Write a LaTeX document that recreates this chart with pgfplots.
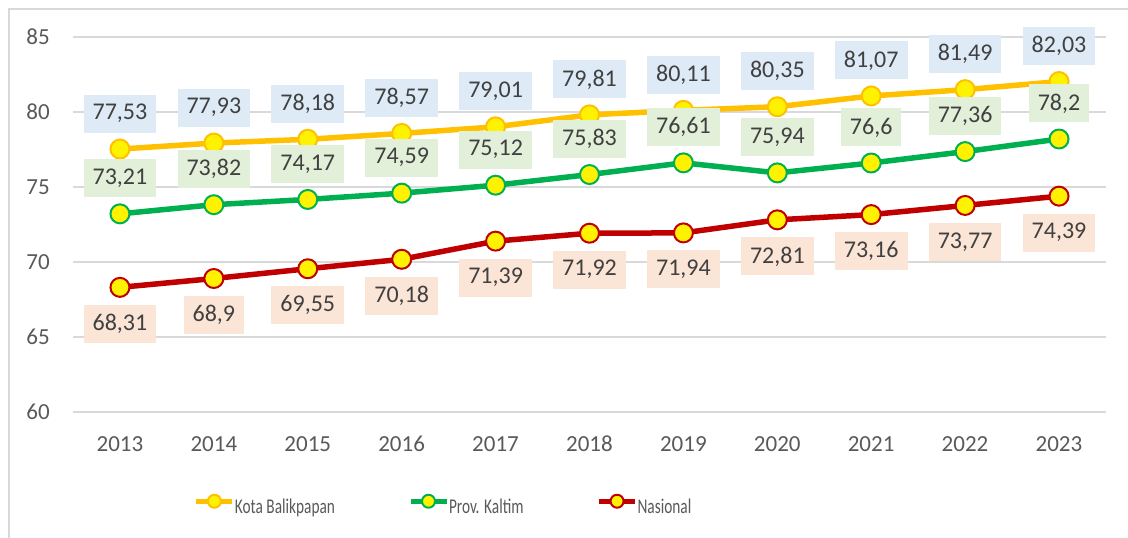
\documentclass[border=0pt]{standalone}
\usepackage{fontspec}
\setmainfont{Carlito}
\usepackage{graphicx}
\usepackage{pgfplots}
\pgfplotsset{compat=1.18}
\definecolor{cOrange}{HTML}{FFC000}
\definecolor{cGreen}{HTML}{00B050}
\definecolor{cRed}{HTML}{C00000}
\definecolor{bBlue}{HTML}{DEEBF7}
\definecolor{bGreen}{HTML}{E2F0D9}
\definecolor{bRed}{HTML}{FBE5D6}
\definecolor{txt}{HTML}{404040}
\definecolor{tickc}{HTML}{595959}
\definecolor{gridc}{HTML}{D9D9D9}
\pgfplotsset{
  lbl/.style={draw=none, forget plot,
    nodes near coords={\pgfmathprintnumber[fixed,precision=2,use comma,assume math mode=true]{\pgfplotspointmeta}},
    every node near coord/.append style={fill=#1, text=txt, anchor=center,
      font=\fontsize{24}{28}\selectfont, inner xsep=9pt, inner ysep=0pt, minimum height=38pt}},
  ser/.style={#1, line width=5.5pt, line join=round, mark=*, mark size=9.5pt,
    mark options={fill=yellow, draw=#1, line width=2pt}},
}
\begin{document}
\begin{tikzpicture}
\useasboundingbox (-73pt,-126pt) rectangle (1055pt,412pt);
\draw[gridc, line width=1.5pt] (1070pt,403pt) -- (-64pt,403pt) -- (-64pt,-140pt);
\begin{axis}[
  scale only axis, width=1033pt, height=375pt,
  at={(0pt,0pt)}, anchor=south west, clip=false,
  xmin=2012.5, xmax=2023.5, ymin=60, ymax=85,
  xtick={2013,...,2023}, ytick={60,65,...,85},
  /pgf/number format/assume math mode=true,
  x tick label style={/pgf/number format/1000 sep={}},
  ymajorgrids, grid style={gridc, line width=1.3pt},
  axis line style={draw=none}, tick style={draw=none},
  tick label style={font=\fontsize{23}{27}\selectfont, text=tickc, inner sep=0pt},
  xticklabel shift=24pt, yticklabel shift=23pt,
  legend columns=3,
  legend style={at={(0.1171,-0.248)}, anchor=west, draw=none, fill=none,
    inner sep=0pt, outer sep=0pt, font=\fontsize{21}{25}\selectfont, text=tickc,
    nodes={inner sep=0pt},
    /tikz/every odd column/.append style={column sep=0pt},
    /tikz/every even column/.append style={column sep=73pt}},
  legend image code/.code={\draw[#1, mark repeat=2, mark phase=2, mark size=6.5pt, line width=5pt]
     plot coordinates {(0pt,6pt) (18pt,6pt) (36pt,6pt)};},
]
\addplot[ser=cOrange] coordinates {(2013,77.53) (2014,77.93) (2015,78.18) (2016,78.57) (2017,79.01) (2018,79.81) (2019,80.11) (2020,80.35) (2021,81.07) (2022,81.49) (2023,82.03)};
\addlegendentry{\scalebox{0.73}[1]{Kota Balikpapan}}
\addplot[ser=cGreen] coordinates {(2013,73.21) (2014,73.82) (2015,74.17) (2016,74.59) (2017,75.12) (2018,75.83) (2019,76.61) (2020,75.94) (2021,76.6) (2022,77.36) (2023,78.2)};
\addlegendentry{\scalebox{0.73}[1]{Prov. Kaltim}}
\addplot[ser=cRed] coordinates {(2013,68.31) (2014,68.9) (2015,69.55) (2016,70.18) (2017,71.39) (2018,71.92) (2019,71.94) (2020,72.81) (2021,73.16) (2022,73.77) (2023,74.39)};
\addlegendentry{\scalebox{0.73}[1]{Nasional}}
\addplot[lbl=bBlue, every node near coord/.append style={yshift=35.5pt}] coordinates {(2013,77.53) (2014,77.93) (2015,78.18) (2016,78.57) (2017,79.01) (2018,79.81) (2019,80.11) (2020,80.35) (2021,81.07) (2022,81.49) (2023,82.03)};
\addplot[lbl=bGreen, every node near coord/.append style={yshift=35.5pt}] coordinates {(2013,73.21) (2014,73.82) (2015,74.17) (2016,74.59) (2017,75.12) (2018,75.83) (2019,76.61) (2020,75.94) (2021,76.6) (2022,77.36) (2023,78.2)};
\addplot[lbl=bRed, every node near coord/.append style={yshift=-36.5pt}] coordinates {(2013,68.31) (2014,68.9) (2015,69.55) (2016,70.18) (2017,71.39) (2018,71.92) (2019,71.94) (2020,72.81) (2021,73.16) (2022,73.77) (2023,74.39)};
\end{axis}
\end{tikzpicture}
\end{document}
